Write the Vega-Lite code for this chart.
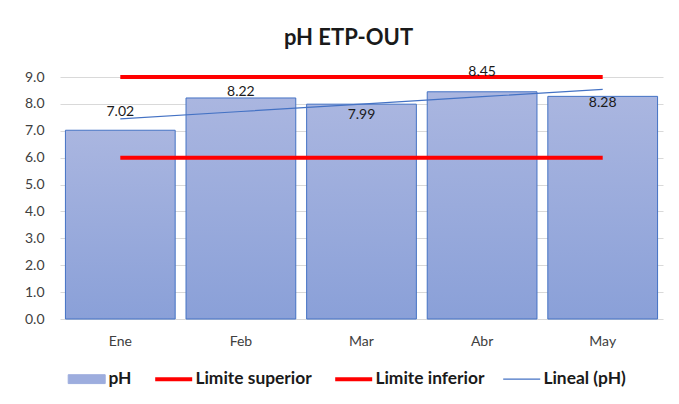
{
  "$schema": "https://vega.github.io/schema/vega-lite/v6.json",
  "width": 603,
  "height": 242,
  "autosize": {"type": "none"},
  "padding": {"left": 60, "top": 77, "right": 16, "bottom": 85},
  "background": "white",
  "config": {"view": {"stroke": null}},
  "title": {"text": "pH ETP-OUT", "font": "Lato", "fontSize": 22, "fontWeight": "bold", "color": "#1a1a1a", "anchor": "middle", "offset": 15, "dx": -13},
  "data": {"values": [
    {"mes": "Ene", "serie": "pH", "v": 7.02},
    {"mes": "Feb", "serie": "pH", "v": 8.22},
    {"mes": "Mar", "serie": "pH", "v": 7.99},
    {"mes": "Abr", "serie": "pH", "v": 8.45},
    {"mes": "May", "serie": "pH", "v": 8.28},
    {"mes": "Ene", "serie": "Limite superior", "v": 9},
    {"mes": "Feb", "serie": "Limite superior", "v": 9},
    {"mes": "Mar", "serie": "Limite superior", "v": 9},
    {"mes": "Abr", "serie": "Limite superior", "v": 9},
    {"mes": "May", "serie": "Limite superior", "v": 9},
    {"mes": "Ene", "serie": "Limite inferior", "v": 6},
    {"mes": "Feb", "serie": "Limite inferior", "v": 6},
    {"mes": "Mar", "serie": "Limite inferior", "v": 6},
    {"mes": "Abr", "serie": "Limite inferior", "v": 6},
    {"mes": "May", "serie": "Limite inferior", "v": 6},
    {"mes": "Ene", "serie": "Lineal (pH)", "v": 7.442},
    {"mes": "Feb", "serie": "Lineal (pH)", "v": 7.717},
    {"mes": "Mar", "serie": "Lineal (pH)", "v": 7.992},
    {"mes": "Abr", "serie": "Lineal (pH)", "v": 8.267},
    {"mes": "May", "serie": "Lineal (pH)", "v": 8.542}
  ]},
  "encoding": {
    "x": {"field": "mes", "type": "nominal", "sort": ["Ene", "Feb", "Mar", "Abr", "May"],
      "scale": {"paddingInner": 0.09, "paddingOuter": 0.045},
      "axis": {"title": null, "labelAngle": 0, "domain": false, "ticks": false, "grid": false, "labelPadding": 15, "labelFont": "Lato", "labelFontSize": 14, "labelColor": "#404040"}},
    "y": {"field": "v", "type": "quantitative", "stack": null, "scale": {"domain": [0, 9], "nice": false},
      "axis": {"title": null, "values": [0, 1, 2, 3, 4, 5, 6, 7, 8, 9], "format": ".1f", "labelOverlap": false, "domain": false, "ticks": false, "labelPadding": 16, "labelFont": "Lato", "labelFontSize": 14, "labelColor": "#404040", "gridColor": "#d9d9d9", "gridWidth": 1}}
  },
  "layer": [
    {
      "transform": [{"filter": "datum.serie === 'pH'"}],
      "mark": {"type": "bar", "stroke": "#4472c4", "strokeWidth": 1,
        "fill": {"gradient": "linear", "x1": 0, "y1": 0, "x2": 0, "y2": 1, "stops": [{"offset": 0, "color": "#aab6e0"}, {"offset": 1, "color": "#8aa0d8"}]}}
    },
    {
      "transform": [{"filter": "datum.serie === 'Limite superior' || datum.serie === 'Limite inferior'"}],
      "mark": {"type": "line", "strokeWidth": 4},
      "encoding": {
        "color": {"field": "serie", "type": "nominal",
          "scale": {"domain": ["pH", "Limite superior", "Limite inferior", "Lineal (pH)"], "range": ["#9dadde", "#ff0000", "#ff0000", "#4472c4"]},
          "legend": {"orient": "none", "legendX": 8, "legendY": 293, "direction": "horizontal", "title": null,
            "labelFont": "Lato", "labelFontSize": 17.4, "labelFontWeight": "bold", "labelColor": "#1a1a1a",
            "symbolSize": 1369, "symbolOffset": 10, "labelOffset": 13, "columnPadding": 15, "symbolStrokeWidth": 1,
            "encode": {"symbols": {"update": {
              "size": {"value": 1369},
              "shape": {"signal": "datum.value === 'pH' ? 'M-1,-0.24H1V0.24H-1Z' : 'M-1,0H1'"},
              "fill": {"signal": "datum.value === 'pH' ? '#9dadde' : 'transparent'"},
              "stroke": {"signal": "datum.value === 'pH' || datum.value === 'Lineal (pH)' ? '#4472c4' : '#ff0000'"},
              "strokeWidth": {"signal": "datum.value === 'pH' ? 1 : datum.value === 'Lineal (pH)' ? 1.3 : 4"},
              "opacity": {"value": 1}
            }}}}}
      }
    },
    {
      "transform": [{"filter": "datum.serie === 'Lineal (pH)'"}],
      "mark": {"type": "line", "strokeWidth": 1.2},
      "encoding": {"color": {"field": "serie", "type": "nominal"}}
    },
    {
      "transform": [{"filter": "datum.serie === 'pH' && datum.mes === 'Ene'"}],
      "mark": {"type": "text", "baseline": "middle", "dy": -18, "font": "Lato", "fontSize": 14, "color": "#1a1a1a"},
      "encoding": {"text": {"field": "v", "type": "quantitative", "format": ".2f"}}
    },
    {
      "transform": [{"filter": "datum.serie === 'pH' && datum.mes === 'Feb'"}],
      "mark": {"type": "text", "baseline": "middle", "dy": -6, "font": "Lato", "fontSize": 14, "color": "#1a1a1a"},
      "encoding": {"text": {"field": "v", "type": "quantitative", "format": ".2f"}}
    },
    {
      "transform": [{"filter": "datum.serie === 'pH' && datum.mes === 'Mar'"}],
      "mark": {"type": "text", "baseline": "middle", "dy": 11, "font": "Lato", "fontSize": 14, "color": "#1a1a1a"},
      "encoding": {"text": {"field": "v", "type": "quantitative", "format": ".2f"}}
    },
    {
      "transform": [{"filter": "datum.serie === 'pH' && datum.mes === 'Abr'"}],
      "mark": {"type": "text", "baseline": "middle", "dy": -20, "font": "Lato", "fontSize": 14, "color": "#1a1a1a"},
      "encoding": {"text": {"field": "v", "type": "quantitative", "format": ".2f"}}
    },
    {
      "transform": [{"filter": "datum.serie === 'pH' && datum.mes === 'May'"}],
      "mark": {"type": "text", "baseline": "middle", "dy": 7, "font": "Lato", "fontSize": 14, "color": "#1a1a1a"},
      "encoding": {"text": {"field": "v", "type": "quantitative", "format": ".2f"}}
    }
  ]
}
